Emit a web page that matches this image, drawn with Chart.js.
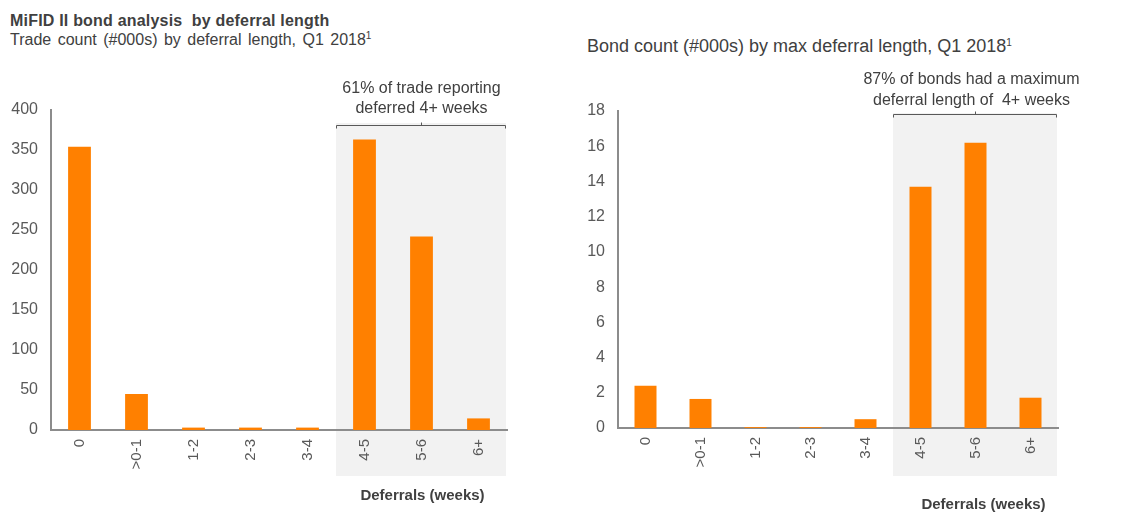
<!DOCTYPE html>
<html><head><meta charset="utf-8">
<script src="https://cdn.jsdelivr.net/npm/chart.js@4"></script>
<style>
html,body{margin:0;padding:0;background:#fff;width:1134px;height:512px;overflow:hidden;}
.txt{position:absolute;font-family:"Liberation Sans",Arial,sans-serif;white-space:nowrap;line-height:1;color:#404040;}
.sup{font-size:10px;position:relative;top:-6px;}
canvas{position:absolute;top:0;}
</style></head><body>
<div class="txt" style="left:10px;top:13px;font-size:16px;font-weight:bold;letter-spacing:0.2px;">MiFID II bond analysis&nbsp; by deferral length</div>
<div class="txt" style="left:10px;top:32px;font-size:16px;word-spacing:2px;">Trade count (#000s) by deferral length, Q1 2018<span class="sup">1</span></div>
<div class="txt" style="left:587px;top:37px;font-size:18px;">Bond count (#000s) by max deferral length, Q1 2018<span class="sup">1</span></div>
<canvas id="c1" width="560" height="512" style="left:0"></canvas>
<canvas id="c2" width="574" height="512" style="left:560px"></canvas>
<script>
const categories = ['0', '>0-1', '1-2', '2-3', '3-4', '4-5', '5-6', '6+'];
const tradeCounts = [354, 45, 3, 3, 3, 363, 242, 14.5];
const bondCounts = [2.4, 1.65, 0.05, 0.05, 0.5, 13.7, 16.2, 1.72];
const tradeAxis = { max: 400, step: 50 };
const bondAxis = { max: 18, step: 2 };
const tradeNote = ['61% of trade reporting', 'deferred 4+ weeks'];
const bondNote = ['87% of bonds had a maximum', 'deferral length of  4+ weeks'];
const axisTitle = 'Deferrals (weeks)';
const shadeFromIndex = 5;

const FAM = '"Liberation Sans", Arial, sans-serif';
const TXT = '#404040';

const decor = {
  id: 'decor',
  beforeDraw(chart, args, o) {
    const { ctx, chartArea: a, scales: { x } } = chart;
    const left = (x.getPixelForValue(o.from - 1) + x.getPixelForValue(o.from)) / 2;
    ctx.save();
    ctx.fillStyle = '#f2f2f2';
    ctx.fillRect(left, o.shadeTop, a.right - 1 - left, o.shadeBottom - o.shadeTop);
    ctx.restore();
  },
  afterDraw(chart, args, o) {
    const { ctx, chartArea: a, scales: { x } } = chart;
    const left = (x.getPixelForValue(o.from - 1) + x.getPixelForValue(o.from)) / 2;
    const right = a.right - 2;
    const mid = (left + right) / 2;
    ctx.save();
    ctx.strokeStyle = '#595959';
    ctx.lineWidth = 1;
    const y = o.bracketY + 0.5;
    ctx.beginPath();
    ctx.moveTo(left + 0.5, y + 3); ctx.lineTo(left + 0.5, y);
    ctx.lineTo(right + 0.5, y); ctx.lineTo(right + 0.5, y + 3);
    ctx.moveTo(Math.round(mid) + 0.5, y); ctx.lineTo(Math.round(mid) + 0.5, y - 3);
    ctx.stroke();
    ctx.fillStyle = TXT;
    ctx.textAlign = 'center';
    ctx.textBaseline = 'middle';
    ctx.font = '16px ' + FAM;
    o.lines.forEach((t, i) => ctx.fillText(t, mid + o.noteDx, o.lineY[i]));
    ctx.font = 'bold 15px ' + FAM;
    ctx.fillText(o.title, mid + o.titleDx, o.titleY);
    ctx.restore();
  }
};

function makeChart(id, values, ax, yW, xH, pad, deco) {
  return new Chart(document.getElementById(id), {
    type: 'bar',
    data: { labels: categories, datasets: [{ data: values, backgroundColor: '#ff8000', barPercentage: 0.4, categoryPercentage: 1 }] },
    options: {
      responsive: false, animation: false,
      layout: { padding: pad },
      plugins: { legend: { display: false }, tooltip: { enabled: false }, decor: deco },
      scales: {
        x: {
          grid: { display: false, drawTicks: false },
          border: { display: true, color: '#8c8c8c', width: 2 },
          ticks: { minRotation: 90, maxRotation: 90, autoSkip: false, padding: 9, color: '#595959', font: { size: 15, family: FAM } },
          afterFit(s) { s.height = xH; }
        },
        y: {
          min: 0, max: ax.max,
          grid: { display: false, drawTicks: false },
          border: { display: true, color: '#8c8c8c', width: 2 },
          ticks: { stepSize: ax.step, padding: 13, color: '#595959', font: { size: 16, family: FAM } },
          afterFit(s) { s.width = yW; }
        }
      }
    },
    plugins: [decor]
  });
}

makeChart('c1', tradeCounts, tradeAxis, 51, 82, { left: 0, right: 53, top: 110, bottom: 0 },
  { from: shadeFromIndex, shadeTop: 123, shadeBottom: 476, bracketY: 125, lines: tradeNote, lineY: [89, 109], noteDx: 1, title: axisTitle, titleY: 496, titleDx: 2 });
makeChart('c2', bondCounts, bondAxis, 58, 84, { left: 0, right: 76, top: 111, bottom: 0 },
  { from: shadeFromIndex, shadeTop: 113, shadeBottom: 476, bracketY: 114, lines: bondNote, lineY: [80, 101], noteDx: -3, title: axisTitle, titleY: 505, titleDx: 9 });
</script>
</body></html>
